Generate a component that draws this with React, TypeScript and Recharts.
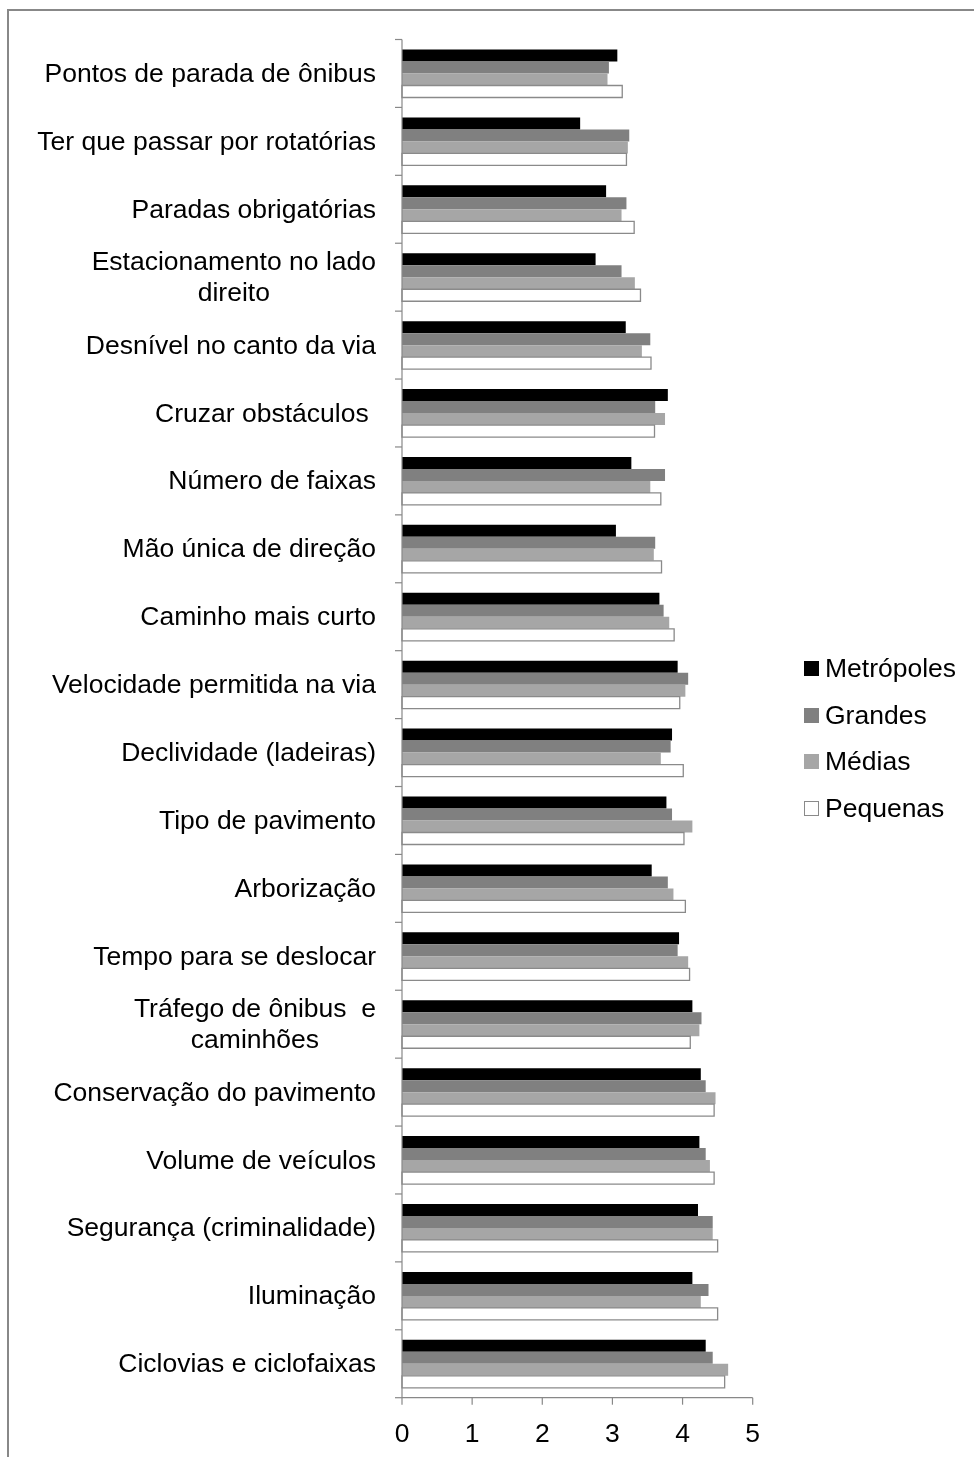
import { Bar, BarChart, XAxis, YAxis } from "recharts";

const categories = [
    "Pontos de parada de ônibus",
    "Ter que passar por rotatórias",
    "Paradas obrigatórias",
    "Estacionamento no lado\ndireito",
    "Desnível no canto da via",
    "Cruzar obstáculos ",
    "Número de faixas",
    "Mão única de direção",
    "Caminho mais curto",
    "Velocidade permitida na via",
    "Declividade (ladeiras)",
    "Tipo de pavimento",
    "Arborização",
    "Tempo para se deslocar",
    "Tráfego de ônibus  e\ncaminhões",
    "Conservação do pavimento",
    "Volume de veículos",
    "Segurança (criminalidade)",
    "Iluminação",
    "Ciclovias e ciclofaixas",
];

const metropoles = [3.07, 2.54, 2.91, 2.76, 3.19, 3.79, 3.27, 3.05, 3.67, 3.93, 3.85, 3.77, 3.56, 3.95, 4.14, 4.26, 4.24, 4.22, 4.14, 4.33];
const grandes = [2.95, 3.24, 3.2, 3.13, 3.54, 3.61, 3.75, 3.61, 3.73, 4.08, 3.83, 3.85, 3.79, 3.93, 4.27, 4.33, 4.33, 4.43, 4.37, 4.43];
const medias = [2.93, 3.22, 3.13, 3.32, 3.42, 3.75, 3.54, 3.59, 3.81, 4.04, 3.69, 4.14, 3.87, 4.08, 4.24, 4.47, 4.39, 4.43, 4.26, 4.65];
const pequenas = [3.14, 3.2, 3.31, 3.4, 3.55, 3.6, 3.69, 3.7, 3.88, 3.96, 4.01, 4.02, 4.04, 4.1, 4.11, 4.45, 4.45, 4.5, 4.5, 4.6];

const xTicks = [0, 1, 2, 3, 4, 5];

const series = [
    { key: "metropoles", name: "Metrópoles", fill: "#000000", stroke: "none" },
    { key: "grandes", name: "Grandes", fill: "#808080", stroke: "none" },
    { key: "medias", name: "Médias", fill: "#a6a6a6", stroke: "none" },
    { key: "pequenas", name: "Pequenas", fill: "#ffffff", stroke: "#8a8a8a" },
];

const data = categories.map((name, i) => ({
    name,
    metropoles: metropoles[i],
    grandes: grandes[i],
    medias: medias[i],
    pequenas: pequenas[i],
}));

const FONT = "'Liberation Sans', Arial, sans-serif";
const FONT_SIZE = 26.5;
const GREY = "#888888";

const W = 966;
const H = 1441;
const AXIS_X = 394;
const PLOT_TOP = 31.5;
const PLOT_BOTTOM = 1389.7;
const PLOT_RIGHT = 744.7;
const X_AXIS_H = 40;
const BAND = (PLOT_BOTTOM - PLOT_TOP) / categories.length;

function CategoryTick(props: any) {
    const { y, payload, index } = props;
    const top = y - BAND / 2;
    return (
        <g>
            <line x1={AXIS_X - 7} x2={AXIS_X} y1={top} y2={top} stroke={GREY} strokeWidth={1.2} />
            {index === categories.length - 1 && (
                <line x1={AXIS_X - 7} x2={AXIS_X} y1={top + BAND} y2={top + BAND} stroke={GREY} strokeWidth={1.2} />
            )}
            <foreignObject x={0} y={y - 40} width={368} height={80}>
                <div
                    style={{
                        display: "flex",
                        justifyContent: "flex-end",
                        alignItems: "center",
                        height: "100%",
                    }}
                >
                    <div
                        style={{
                            textAlign: "center",
                            whiteSpace: "pre",
                            fontFamily: FONT,
                            fontSize: FONT_SIZE,
                            lineHeight: "31px",
                            color: "#000",
                        }}
                    >
                        {payload.value}
                    </div>
                </div>
            </foreignObject>
        </g>
    );
}

function LegendBox() {
    return (
        <div style={{ position: "absolute", left: 796, top: 637, fontFamily: FONT, fontSize: FONT_SIZE }}>
            {series.map((s) => (
                <div key={s.key} style={{ display: "flex", alignItems: "center", height: 46.7 }}>
                    <span
                        style={{
                            display: "inline-block",
                            width: 15,
                            height: 15,
                            boxSizing: "border-box",
                            background: s.fill,
                            border: s.stroke === "none" ? "none" : `1.3px solid ${s.stroke}`,
                            marginRight: 6,
                        }}
                    />
                    <span>{s.name}</span>
                </div>
            ))}
        </div>
    );
}

export default function App() {
    return (
        <div style={{ position: "relative", width: W, height: H }}>
            {/* frame: fixed so it never adds scroll overflow */}
            <div
                style={{
                    position: "fixed",
                    left: 7,
                    top: 9,
                    width: 967,
                    height: 1448,
                    boxSizing: "border-box",
                    borderTop: `2.5px solid ${GREY}`,
                    borderLeft: `2.5px solid ${GREY}`,
                    pointerEvents: "none",
                }}
            />
            <BarChart
                width={W}
                height={H}
                data={data}
                layout="vertical"
                margin={{ top: PLOT_TOP, right: W - PLOT_RIGHT, left: 0, bottom: H - PLOT_BOTTOM - X_AXIS_H }}
                barCategoryGap={10}
                barGap={0}
            >
                <XAxis
                    type="number"
                    domain={[0, 5]}
                    ticks={xTicks}
                    height={X_AXIS_H}
                    tickSize={7}
                    tickMargin={18}
                    axisLine={{ stroke: GREY, strokeWidth: 1.2 }}
                    tickLine={{ stroke: GREY, strokeWidth: 1.2 }}
                    tick={{ fill: "#000", fontSize: FONT_SIZE, fontFamily: FONT }}
                />
                <YAxis
                    type="category"
                    dataKey="name"
                    width={AXIS_X}
                    interval={0}
                    tickLine={false}
                    axisLine={{ stroke: GREY, strokeWidth: 1.2 }}
                    tick={<CategoryTick />}
                />
                {series.map((s) => (
                    <Bar
                        key={s.key}
                        dataKey={s.key}
                        name={s.name}
                        fill={s.fill}
                        stroke={s.stroke}
                        strokeWidth={1.3}
                        isAnimationActive={false}
                    />
                ))}
            </BarChart>
            <LegendBox />
        </div>
    );
}
